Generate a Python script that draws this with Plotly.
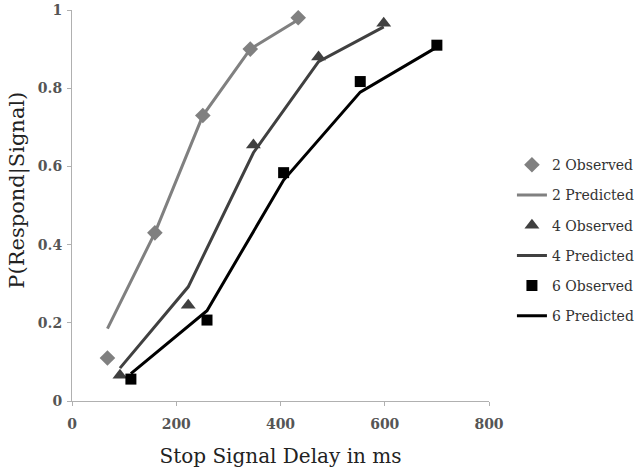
import plotly.graph_objects as go

# Data
x2 = [68, 159, 251, 342, 434]
obs2 = [0.11, 0.43, 0.73, 0.90, 0.98]
pred2 = [0.185, 0.43, 0.73, 0.90, 0.975]

x4 = [92, 223, 348, 473, 598]
obs4 = [0.066, 0.245, 0.655, 0.88, 0.966]
pred4 = [0.084, 0.292, 0.635, 0.868, 0.957]

x6 = [113, 259, 406, 553, 700]
obs6 = [0.056, 0.207, 0.584, 0.817, 0.91]
pred6 = [0.07, 0.231, 0.565, 0.79, 0.905]

x_ticks = [0, 200, 400, 600, 800]
y_ticks = [0, 0.2, 0.4, 0.6, 0.8, 1]
y_tick_labels = ["0", "0.2", "0.4", "0.6", "0.8", "1"]

c2, c4, c6 = "#808080", "#404040", "#000000"
font_family = "DejaVu Serif, serif"

fig = go.Figure()
series = [
    ("2", x2, obs2, pred2, c2, "diamond", 12),
    ("4", x4, obs4, pred4, c4, "triangle-up", 13),
    ("6", x6, obs6, pred6, c6, "square", 11),
]
for name, xs, obs, pred, col, sym, sz in series:
    fig.add_trace(go.Scatter(
        x=xs, y=pred, mode="lines", name=f"{name} Predicted",
        line=dict(color=col, width=3), legendgroup=f"{name}p", legendrank=2 * int(name) + 1,
    ))
    fig.add_trace(go.Scatter(
        x=xs, y=obs, mode="markers", name=f"{name} Observed",
        marker=dict(color=col, symbol=sym, size=sz), legendgroup=f"{name}o", legendrank=2 * int(name),
    ))

fig.add_annotation(
    text="P(Respond|Signal)", textangle=-90, xref="paper", yref="paper",
    x=-0.13, y=0.54, xanchor="center", yanchor="middle", showarrow=False,
    font=dict(size=21, color="#222222", family=font_family),
)

fig.update_layout(
    width=639, height=471,
    margin=dict(l=72, r=150, t=10, b=70, autoexpand=False),
    paper_bgcolor="white", plot_bgcolor="white",
    font=dict(family=font_family, color="#404040", size=14),
    showlegend=True,
    legend=dict(x=1.055, xanchor="left", y=0.41, yanchor="middle",
                tracegroupgap=9, font=dict(size=14, color="#333333"),
                bgcolor="rgba(0,0,0,0)"),
    xaxis=dict(range=[0, 800], tickvals=x_ticks, showgrid=False, zeroline=False,
               showline=True, linecolor="#b0b0b0", linewidth=1,
               ticks="outside", ticklen=4, tickcolor="#b0b0b0", ticklabelstandoff=6,
               tickfont=dict(size=14, color="#555555", weight="bold"),
               title=dict(text="Stop Signal Delay in ms", font=dict(size=20, color="#222222"), standoff=18)),
    yaxis=dict(range=[0, 1], tickvals=y_ticks, ticktext=y_tick_labels, showgrid=False, zeroline=False,
               showline=True, linecolor="#b0b0b0", linewidth=1,
               ticks="outside", ticklen=4, tickcolor="#b0b0b0", ticklabelstandoff=2,
               tickfont=dict(size=14, color="#555555", weight="bold")),
)

fig.write_html("out.html")
